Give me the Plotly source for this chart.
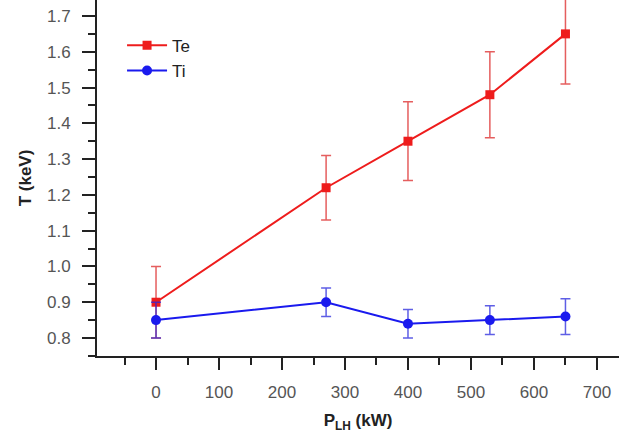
import plotly.graph_objects as go

p_lh = [0, 270, 400, 530, 650]
te = [0.90, 1.22, 1.35, 1.48, 1.65]
te_err = [0.10, 0.09, 0.11, 0.12, 0.14]
ti = [0.85, 0.90, 0.84, 0.85, 0.86]
ti_err = [0.05, 0.04, 0.04, 0.04, 0.05]
x_ticks = [0, 100, 200, 300, 400, 500, 600, 700]
y_ticks = [0.8, 0.9, 1.0, 1.1, 1.2, 1.3, 1.4, 1.5, 1.6, 1.7]
y_ticktext = ["0.8", "0.9", "1.0", "1.1", "1.2", "1.3", "1.4", "1.5", "1.6", "1.7"]

fig = go.Figure()
fig.add_trace(go.Scatter(
    x=p_lh, y=te, name="Te", mode="lines+markers",
    line=dict(color="#ee1c1c", width=2),
    marker=dict(symbol="square", size=9, color="#ee1c1c"),
    error_y=dict(type="data", array=te_err, color="rgba(220,40,40,0.75)", thickness=1.5, width=5),
))
fig.add_trace(go.Scatter(
    x=p_lh, y=ti, name="Ti", mode="lines+markers",
    line=dict(color="#1a1aee", width=2),
    marker=dict(symbol="circle", size=10, color="#1a1aee"),
    error_y=dict(type="data", array=ti_err, color="rgba(40,40,220,0.75)", thickness=1.5, width=5),
))

axis_font = dict(family="Liberation Sans, Arial", size=17, color="#555555")
title_font = dict(family="Liberation Sans, Arial", size=17, color="#222222")
fig.update_layout(
    width=619, height=433,
    margin=dict(l=97, r=0, t=0, b=77),
    plot_bgcolor="white", paper_bgcolor="white",
    showlegend=True,
    legend=dict(x=0.048, y=0.922, xanchor="left", yanchor="top", itemwidth=40,
                font=dict(family="Liberation Sans, Arial", size=17, color="#222222"),
                bgcolor="rgba(0,0,0,0)", tracegroupgap=0),
    xaxis=dict(
        range=[-93.7, 735], tickvals=x_ticks,
        showgrid=False, zeroline=False, showline=True, linecolor="#222222", linewidth=1.8,
        ticks="outside", ticklen=12, tickwidth=1.8, tickcolor="#222222",
        minor=dict(dtick=50, tick0=0, ticks="outside", ticklen=7, tickwidth=1.8, tickcolor="#222222"),
        tickfont=axis_font, ticklabelstandoff=8,
        title=dict(text="<b>P<sub>LH</sub> (kW)</b>", font=title_font, standoff=16),
    ),
    yaxis=dict(
        range=[0.7497, 1.7447], tickvals=y_ticks, ticktext=y_ticktext,
        showgrid=False, zeroline=False, showline=True, linecolor="#222222", linewidth=1.8,
        ticks="outside", ticklen=13, tickwidth=1.8, tickcolor="#222222",
        minor=dict(dtick=0.05, tick0=0.75, ticks="outside", ticklen=7, tickwidth=1.8, tickcolor="#222222"),
        tickfont=axis_font, ticklabelstandoff=8,
        title=dict(text="<b>T (keV)</b>", font=title_font, standoff=11),
    ),
)

fig.write_html("out.html")
